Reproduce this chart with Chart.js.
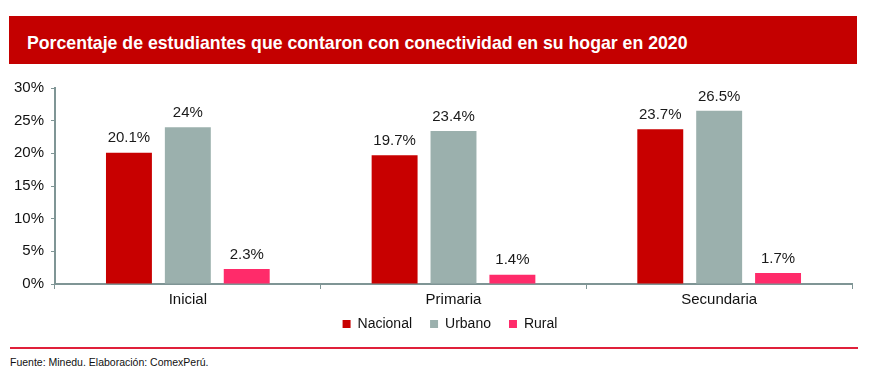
<!DOCTYPE html>
<html><head><meta charset="utf-8">
<script src="https://cdn.jsdelivr.net/npm/chart.js@4"></script>
<style>
html,body{margin:0;padding:0;background:#fff;width:872px;height:385px;overflow:hidden;font-family:"Liberation Sans",Arial,sans-serif;}
#title{position:absolute;left:9px;top:16px;width:848px;height:48px;background:#c40000;color:#fff;font-weight:bold;font-size:17.7px;line-height:54px;box-sizing:border-box;padding-left:18px;overflow:hidden;white-space:nowrap;}
#wrap{position:absolute;left:0;top:70px;width:872px;height:264px;}
#line{position:absolute;left:10px;top:347px;width:848px;height:2px;background:#e0203a;}
#src{position:absolute;left:10px;top:356px;font-size:10.5px;color:#111;}
</style></head><body>
<div id="title">Porcentaje de estudiantes que contaron con conectividad en su hogar en 2020</div>
<div id="wrap"><canvas id="c"></canvas></div>
<div id="line"></div>
<div id="src">Fuente: Minedu. Elaboración: ComexPerú.</div>
<script>
const categories = ["Inicial", "Primaria", "Secundaria"];
const nacional = [20.1, 19.7, 23.7];
const urbano = [24, 23.4, 26.5];
const rural = [2.3, 1.4, 1.7];
const yTicks = [0, 5, 10, 15, 20, 25, 30];

const labelPlugin = {
  id: 'vals',
  afterDatasetsDraw(chart) {
    const ctx = chart.ctx;
    ctx.save();
    ctx.font = '15px "Liberation Sans", Arial, sans-serif';
    ctx.fillStyle = '#1a1a1a';
    ctx.textAlign = 'center';
    ctx.textBaseline = 'bottom';
    chart.data.datasets.forEach((ds, i) => {
      chart.getDatasetMeta(i).data.forEach((bar, j) => {
        ctx.fillText(ds.data[j] + '%', bar.x, bar.y - 7);
      });
    });
    ctx.restore();
  }
};

const legendTweak = {
  id: 'legendTweak',
  beforeUpdate(chart) {
    const lg = chart.legend;
    if (!lg || lg._tweaked) return;
    lg._tweaked = true;
    const fit = lg.fit;
    lg.fit = function () { fit.call(this); this.height = 30; };
    const draw = lg.draw;
    lg.draw = function () {
      const c = this.ctx;
      c.save(); c.translate(24, -5); draw.call(this); c.restore();
    };
  }
};

const F = '"Liberation Sans", Arial';
new Chart(document.getElementById('c'), {
  type: 'bar',
  data: {
    labels: categories,
    datasets: [
      {label: 'Nacional', data: nacional, backgroundColor: '#c80000'},
      {label: 'Urbano', data: urbano, backgroundColor: '#9bb0ad'},
      {label: 'Rural', data: rural, backgroundColor: '#ff2b6a'}
    ]
  },
  options: {
    responsive: true,
    maintainAspectRatio: false,
    animation: false,
    datasets: {bar: {categoryPercentage: 0.665, barPercentage: 0.78}},
    layout: {padding: {top: 18, right: 20, left: 0, bottom: 0}},
    plugins: {
      legend: {
        position: 'bottom',
        labels: {boxWidth: 8, boxHeight: 8, font: {size: 14, family: F}, color: '#111', padding: 18}
      },
      tooltip: {enabled: false}
    },
    scales: {
      x: {
        afterFit(s) { s.height = 20; },
        grid: {drawOnChartArea: false, tickLength: 5, color: '#7f9595', offset: true},
        border: {color: '#7f9595', width: 2},
        ticks: {font: {size: 15, family: F}, color: '#111', padding: 2}
      },
      y: {
        min: 0, max: 30,
        afterFit(s) { s.width = 55; },
        afterBuildTicks(s) { s.ticks = yTicks.map(v => ({value: v})); },
        grid: {drawOnChartArea: false, tickLength: 4, color: '#7f9595'},
        border: {color: '#7f9595', width: 2},
        ticks: {font: {size: 15, family: F}, color: '#111', padding: 7, callback: v => v + '%'}
      }
    }
  },
  plugins: [labelPlugin, legendTweak]
});
</script>
</body></html>
